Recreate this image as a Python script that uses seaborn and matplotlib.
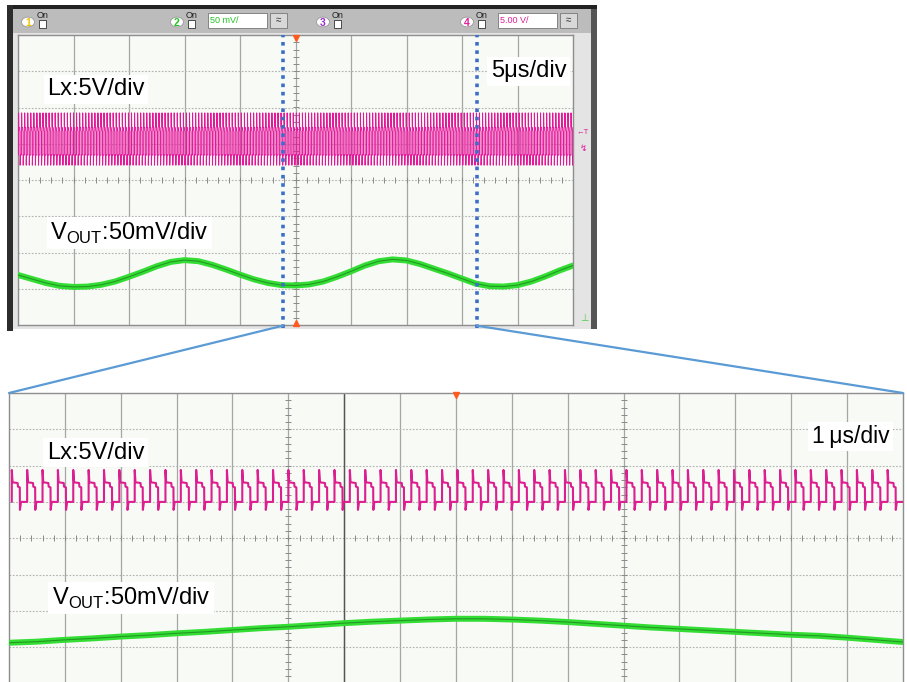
import numpy as np
import matplotlib
matplotlib.use("Agg")
import matplotlib.pyplot as plt
import seaborn as sns
from matplotlib.patches import Rectangle, Circle, ConnectionPatch

W, H = 907, 682

# ---- data (units: scope divisions) ----
# top capture: 5us/div, 10 x 8 div
top_x = np.linspace(0, 10, 41)
top_vout = [1.38, 1.27, 1.16, 1.08, 1.05, 1.06, 1.11, 1.20, 1.33, 1.47,
            1.62, 1.74, 1.79, 1.76, 1.66, 1.53, 1.39, 1.26, 1.16, 1.10,
            1.09, 1.12, 1.20, 1.33, 1.48, 1.64, 1.76, 1.81, 1.78, 1.68,
            1.55, 1.42, 1.28, 1.14, 1.07, 1.06, 1.10, 1.20, 1.34, 1.50, 1.64]

# bottom capture: 1us/div, 16 x 8 div
zoom_x = np.linspace(0, 16, 33)
zoom_vout = [1.12, 1.15, 1.20, 1.24, 1.29, 1.33, 1.38, 1.42, 1.47, 1.52,
             1.56, 1.61, 1.66, 1.70, 1.73, 1.76, 1.78, 1.78, 1.76, 1.73,
             1.69, 1.64, 1.59, 1.54, 1.50, 1.46, 1.42, 1.38, 1.34, 1.31,
             1.26, 1.20, 1.14]

# one switching period of Lx (phase within period, level in div)
lx_phase = [0.00, 0.00, 0.05, 0.38, 0.40, 0.52, 0.53, 0.60, 1.00]
lx_top_level = [4.69, 5.85, 5.46, 5.44, 5.36, 5.34, 4.41, 4.69, 4.69]
lx_zoom_level = [5.00, 5.88, 5.54, 5.52, 5.42, 5.40, 4.78, 5.00, 5.00]
lx_period_us = 0.275
lx_start_us = 0.05

zoom_window = [4.77, 8.27]   # blue cursors in top capture (div)
labels_top = ["Lx:5V/div", "5\u03bcs/div", r"V$_{\rm OUT}$:50mV/div"]
labels_zoom = ["Lx:5V/div", "1\u2009\u03bcs/div", r"V$_{\rm OUT}$:50mV/div"]


def switching(level, period_div, n_div, start):
    xs, ys = [], []
    k = 0
    while start + k * period_div < n_div:
        for p, lv in zip(lx_phase, level):
            xs.append(start + (k + p) * period_div)
            ys.append(lv)
        k += 1
    return np.array(xs), np.array(ys)


def draw_grid(ax, ndiv, centers):
    ax.set_facecolor("#f8faf6")
    for v in range(1, ndiv):
        ax.axvline(v, color="#a6a6a6", lw=0.9, zorder=1)
    for h in range(1, 8):
        ax.axhline(h, color="#b2b2b2", lw=0.8, ls=(0, (1.5, 1.5)), zorder=1)
    kx = 3.0 / (ax.bbox.width / ndiv)
    ky = 3.0 / (ax.bbox.height / 8)
    for c in centers:
        ax.hlines(np.arange(0.2, 8, 0.2), c - kx, c + kx, color="#8a8a8a", lw=0.7, zorder=1)
    ax.vlines(np.arange(0.2, ndiv, 0.2), 4 - ky, 4 + ky, color="#8a8a8a", lw=0.7, zorder=1)
    ax.set_xticks([])
    ax.set_yticks([])
    for s in ax.spines.values():
        s.set_color("#8e8e8e")
        s.set_linewidth(1.0)


sns.set_style("white")
plt.rcParams["font.family"] = ["Liberation Sans", "DejaVu Sans"]
plt.rcParams["mathtext.fontset"] = "custom"
plt.rcParams["mathtext.rm"] = "Liberation Sans"

fig = plt.figure(figsize=(W / 100, H / 100), dpi=100)


def box(x0, y0, x1, y1, color, z=-2, **kw):
    fig.patches.append(Rectangle((x0 / W, 1 - y1 / H), (x1 - x0) / W, (y1 - y0) / H,
                                 transform=fig.transFigure, facecolor=color,
                                 edgecolor=kw.pop("ec", "none"), lw=kw.pop("lw", 0),
                                 zorder=z, **kw))


# scope frame of the top capture
box(7, 5, 597, 329, "#e4e4e4")
box(7, 9, 592, 33, "#bcbcbc")
box(7, 5, 597, 9, "#222222")
box(7, 5, 13, 331, "#2c2c2c")
box(591, 9, 597, 329, "#555555")

# channel header
chans = [("1", 28, "#f2c200", None), ("2", 177, "#22c422", "50 mV/"),
         ("3", 323, "#9a2ad0", None), ("4", 467, "#e0209a", "5.00 V/")]
for num, cx, col, txt in chans:
    fig.patches.append(Circle((cx / W, 1 - 22 / H), 6.5 / W, transform=fig.transFigure,
                              facecolor="white", edgecolor="#999999", lw=0.6, zorder=1))
    fig.text(cx / W, 1 - 22.5 / H, num, color=col, fontsize=7.5, fontweight="bold",
             ha="center", va="center")
    fig.text((cx + 15) / W, 1 - 15 / H, "On", color="#222222", fontsize=6.5,
             ha="center", va="center")
    box(cx + 11, 20, cx + 18, 28, "white", z=1, ec="#333333", lw=0.6)
    if txt:
        box(cx + 31, 13, cx + 90, 28, "white", z=1, ec="#777777", lw=0.6)
        fig.text((cx + 33) / W, 1 - 20.5 / H, txt, color=col, fontsize=6.5,
                 ha="left", va="center")
        box(cx + 93, 13, cx + 110, 28, "#d8d8d8", z=1, ec="#777777", lw=0.6)
        fig.text((cx + 101.5) / W, 1 - 20.5 / H, "\u2248", color="#333333", fontsize=7,
                 ha="center", va="center")

# ---- top capture ----
ax_top = fig.add_axes([18 / W, 1 - 325 / H, 555 / W, 290 / H])
ax_top.set_xlim(0, 10)
ax_top.set_ylim(0, 8)
draw_grid(ax_top, 10, [5])

tx, ty = switching(lx_top_level, lx_period_us / 5, 10, lx_start_us / 5)
sns.lineplot(x=tx, y=ty, ax=ax_top, color="#e4169a", lw=0.75,
             estimator=None, sort=False, zorder=3)
sns.lineplot(x=top_x, y=top_vout, ax=ax_top, color="#33dd33", lw=4.3,
             estimator=None, sort=False, zorder=4)
sns.lineplot(x=top_x, y=top_vout, ax=ax_top, color="#1d7a1d", lw=0.8, alpha=0.7,
             estimator=None, sort=False, zorder=5)
for xc in zoom_window:
    ax_top.axvline(xc, ymin=-0.01, ymax=1.0, color="#3b6fc9", lw=2.6,
                   ls=(0, (1, 1.3)), zorder=6, clip_on=False)
ax_top.plot([5], [7.93], marker="v", color="#ff5a1f", ms=5, zorder=7, clip_on=False)
ax_top.plot([5], [0.05], marker="^", color="#ff5a1f", ms=5, zorder=7, clip_on=False)

# side markers
fig.text(583 / W, 1 - 133 / H, "\u2190T", color="#e0209a", fontsize=5.5, ha="center", va="center")
fig.text(583 / W, 1 - 148 / H, "\u21af", color="#e0209a", fontsize=6.5, ha="center", va="center")
fig.text(584 / W, 1 - 318 / H, "\u22a5", color="#55cc55", fontsize=7, ha="center", va="center")

# ---- zoomed capture ----
ax_z = fig.add_axes([9 / W, 0, 894 / W, (H - 393) / H])
ax_z.set_xlim(0, 16)
ax_z.set_ylim(8 - (H - 393) / 36.3, 8)
draw_grid(ax_z, 16, [5, 11])
ax_z.spines["bottom"].set_visible(False)
ax_z.axvline(6, color="#555555", lw=1.0, zorder=1)

zx, zy = switching(lx_zoom_level, lx_period_us, 16, lx_start_us)
sns.lineplot(x=zx, y=zy, ax=ax_z, color="#dc1f90", lw=1.5,
             estimator=None, sort=False, zorder=3)
sns.lineplot(x=zoom_x, y=zoom_vout, ax=ax_z, color="#33dd33", lw=4.3,
             estimator=None, sort=False, zorder=4)
sns.lineplot(x=zoom_x, y=zoom_vout, ax=ax_z, color="#1d7a1d", lw=0.8, alpha=0.7,
             estimator=None, sort=False, zorder=5)
ax_z.plot([8], [7.95], marker="v", color="#ff5a1f", ms=5, zorder=7, clip_on=False)

# connectors from the cursors to the zoomed capture
for (xa, xb) in [(zoom_window[0], 0), (zoom_window[1], 16)]:
    con = ConnectionPatch(xyA=(xa, -0.02), coordsA=ax_top.transData,
                          xyB=(xb, 8), coordsB=ax_z.transData,
                          color="#5b9bd5", lw=1.6, zorder=8)
    fig.add_artist(con)

# labels with white boxes
def label(ax, x, y, s, size):
    ax.text(x, y, s, fontsize=size, color="black", ha="left", va="center", zorder=9,
            bbox=dict(facecolor="white", edgecolor="none", pad=2.5))

label(ax_top, 0.53, 6.5, labels_top[0], 17)
label(ax_top, 8.52, 7.0, labels_top[1], 17)
label(ax_top, 0.58, 2.54, labels_top[2], 17)
label(ax_z, 0.68, 6.35, labels_zoom[0], 17)
label(ax_z, 14.37, 6.8, labels_zoom[1], 16.5)
label(ax_z, 0.77, 2.35, labels_zoom[2], 17)

fig.savefig("out.png", dpi=100, facecolor="white")
